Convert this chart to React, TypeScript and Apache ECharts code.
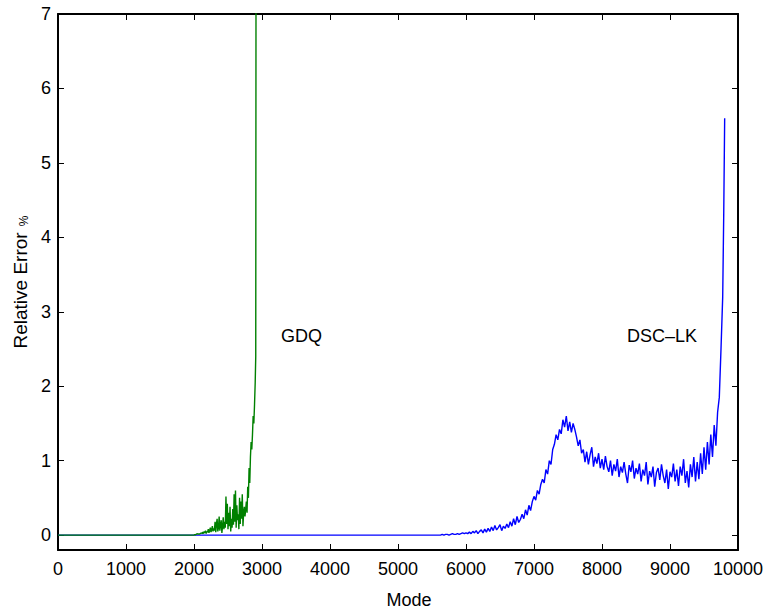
import React, { useEffect, useRef } from "react";
import * as echarts from "echarts";

// X axis (Mode) ticks and Y axis (Relative Error %) ticks
const xTicks = [0, 1000, 2000, 3000, 4000, 5000, 6000, 7000, 8000, 9000, 10000];
const yTicks = [0, 1, 2, 3, 4, 5, 6, 7];

// DSC-LK (blue): flat at zero up to 5600, then sampled every 25 modes from 5600 to 9700
const dscStart = 5600;
const dscStep = 25;
const dscErrors = [
  0.00, 0.00, 0.01, 0.00, 0.01, 0.01, 0.00, 0.01, 0.02, 0.01, 0.01, 0.02, 0.01, 0.02, 0.03, 0.02, 0.03,
  0.02, 0.04, 0.02, 0.05, 0.03, 0.06, 0.02, 0.05, 0.07, 0.03, 0.08, 0.04,
  0.09, 0.05, 0.11, 0.06, 0.13, 0.07, 0.10, 0.14, 0.06, 0.12, 0.09, 0.15,
  0.10, 0.18, 0.12, 0.22, 0.14, 0.25, 0.17, 0.21,
  0.28, 0.22, 0.34, 0.27, 0.40, 0.33,
  0.45, 0.52, 0.47, 0.60, 0.55, 0.68,
  0.75, 0.70, 0.88, 0.82, 1.00, 0.95,
  1.15, 1.22, 1.35, 1.28, 1.42, 1.36,
  1.55, 1.45, 1.60, 1.40, 1.52, 1.38, 1.50, 1.42,
  1.32, 1.20, 1.28, 1.10,
  1.15, 0.98, 1.12, 0.95, 1.08, 1.18, 0.92, 1.05, 0.96, 1.10, 0.90, 1.02,
  0.88, 1.06, 0.92, 0.85, 1.00, 0.80, 0.95, 0.86, 1.02, 0.78, 0.92, 0.84, 0.98, 0.82, 0.70, 0.94, 0.85, 1.00, 0.76, 0.90,
  0.82, 0.96, 0.72, 0.88, 0.80, 0.98, 0.68, 0.86, 0.78, 0.92, 0.65, 0.84, 0.90, 0.74, 0.95, 0.80, 0.70, 0.88, 0.62, 0.85,
  0.78, 0.96, 0.72, 0.88, 0.66, 0.92, 0.80, 1.02, 0.70, 0.86, 0.64, 0.95, 0.78, 1.05, 0.72, 0.98,
  0.75, 1.10, 0.82, 1.18, 0.88, 1.25,
  0.95, 1.35, 1.05, 1.48, 1.20, 1.65,
];
// final blow-up of DSC-LK
const dscTailModes = [9725, 9750, 9775, 9790, 9804];
const dscTailErrors = [1.85, 2.5, 3.2, 4.3, 5.6];

// GDQ (green): flat at zero up to 2000, then sampled every 10 modes from 2000 to 2900
const gdqStart = 2000;
const gdqStep = 10;
const gdqErrors = [
  0.00, 0.01, 0.00, 0.01, 0.01, 0.02, 0.01, 0.02, 0.01, 0.02, 0.02,
  0.03, 0.02, 0.04, 0.02, 0.05, 0.03, 0.06, 0.02, 0.05, 0.04, 0.08, 0.03, 0.06, 0.10, 0.04, 0.07, 0.12, 0.05, 0.09, 0.06,
  0.18, 0.04, 0.15, 0.22, 0.05, 0.10, 0.25, 0.06, 0.14, 0.20, 0.03, 0.12, 0.24, 0.08, 0.18, 0.10,
  0.52, 0.15, 0.42, 0.08, 0.30, 0.12, 0.38, 0.05, 0.22, 0.10,
  0.35, 0.14, 0.55, 0.18, 0.60, 0.10, 0.40, 0.20, 0.28, 0.08,
  0.50, 0.15, 0.45, 0.22, 0.55, 0.12, 0.30, 0.38, 0.25, 0.35,
  0.45, 0.30, 0.65, 0.50, 0.90, 0.70, 1.05, 1.25, 1.15, 1.35,
  1.60, 1.50, 1.75, 2.05,
];
// GDQ blows up past the top of the plot
const gdqTailModes = [2908, 2912, 2918];
const gdqTailErrors = [2.4, 7.5, 40];

const FONT = "'Liberation Sans', Arial, Helvetica, sans-serif";

export default function App() {
  const ref = useRef<HTMLDivElement>(null);

  useEffect(() => {
    if (!ref.current) return;
    const chart = echarts.init(ref.current, null, { renderer: "svg" });

    const dscData: number[][] = [[0, 0]];
    dscErrors.forEach((v, i) => dscData.push([dscStart + i * dscStep, v]));
    dscTailModes.forEach((m, i) => dscData.push([m, dscTailErrors[i]]));

    const gdqData: number[][] = [[0, 0]];
    gdqErrors.forEach((v, i) => gdqData.push([gdqStart + i * gdqStep, v]));
    gdqTailModes.forEach((m, i) => gdqData.push([m, gdqTailErrors[i]]));

    const axisLine = { show: true, onZero: false, lineStyle: { color: "#000", width: 2 } };
    const tick = { show: true, inside: true, length: 6, lineStyle: { color: "#000", width: 1 } };
    const plain = (v: number) => String(v);

    chart.setOption({
      animation: false,
      backgroundColor: "#fff",
      textStyle: { fontFamily: FONT },
      grid: { left: 58, right: 30, top: 14, bottom: 63, containLabel: false, outerBoundsMode: "none" },
      xAxis: [
        {
          type: "value",
          min: 0,
          max: 10000,
          interval: 1000,
          position: "bottom",
          name: "Mode",
          nameLocation: "middle",
          nameGap: 41,
          nameTextStyle: { fontSize: 18, color: "#000", fontFamily: FONT, padding: [0, 0, 0, 22] },
          axisLine,
          axisTick: { ...tick, customValues: xTicks },
          axisLabel: { customValues: xTicks, formatter: plain, fontSize: 18, color: "#000", margin: 10, fontFamily: FONT },
          splitLine: { show: false },
        },
        {
          type: "value",
          min: 0,
          max: 10000,
          interval: 1000,
          position: "top",
          axisLine,
          axisTick: { ...tick, customValues: xTicks },
          axisLabel: { show: false },
          splitLine: { show: false },
        },
      ],
      yAxis: [
        {
          type: "value",
          min: -0.2,
          max: 7,
          position: "left",
          name: "{a|Relative Error }{p|%}",
          nameLocation: "middle",
          nameRotate: 90,
          nameGap: 24,
          nameTextStyle: {
            fontSize: 19,
            color: "#000",
            fontFamily: FONT,
            rich: {
              a: { fontSize: 19, lineHeight: 19, verticalAlign: "top", color: "#000", fontFamily: FONT },
              p: { fontSize: 12, lineHeight: 12, verticalAlign: "bottom", padding: [13, 0, 0, 1], color: "#000", fontFamily: FONT },
            },
          },
          axisLine,
          axisTick: { ...tick, customValues: yTicks },
          axisLabel: { customValues: yTicks, formatter: plain, fontSize: 18, color: "#000", margin: 7, fontFamily: FONT },
          splitLine: { show: false },
        },
        {
          type: "value",
          min: -0.2,
          max: 7,
          position: "right",
          axisLine,
          axisTick: { ...tick, customValues: yTicks },
          axisLabel: { show: false },
          splitLine: { show: false },
        },
      ],
      series: [
        {
          name: "DSC-LK",
          type: "line",
          xAxisIndex: 0,
          yAxisIndex: 0,
          data: dscData,
          showSymbol: false,
          symbol: "none",
          clip: true,
          lineStyle: { color: "#0000ff", width: 1.4 },
          itemStyle: { color: "#0000ff" },
          z: 2,
        },
        {
          name: "GDQ",
          type: "line",
          xAxisIndex: 0,
          yAxisIndex: 0,
          data: gdqData,
          showSymbol: false,
          symbol: "none",
          clip: true,
          lineStyle: { color: "#008000", width: 1.4 },
          itemStyle: { color: "#008000" },
          z: 3,
        },
      ],
      graphic: [
        {
          type: "text",
          left: 281,
          top: 327,
          style: { text: "GDQ", fontSize: 18, fill: "#000", fontFamily: FONT },
        },
        {
          type: "text",
          left: 627,
          top: 327,
          style: { text: "DSC–LK", fontSize: 18, fill: "#000", fontFamily: FONT },
        },
      ],
    });

    return () => chart.dispose();
  }, []);

  return <div ref={ref} style={{ width: 768, height: 613, position: "absolute", left: 0, top: 0 }} />;
}
